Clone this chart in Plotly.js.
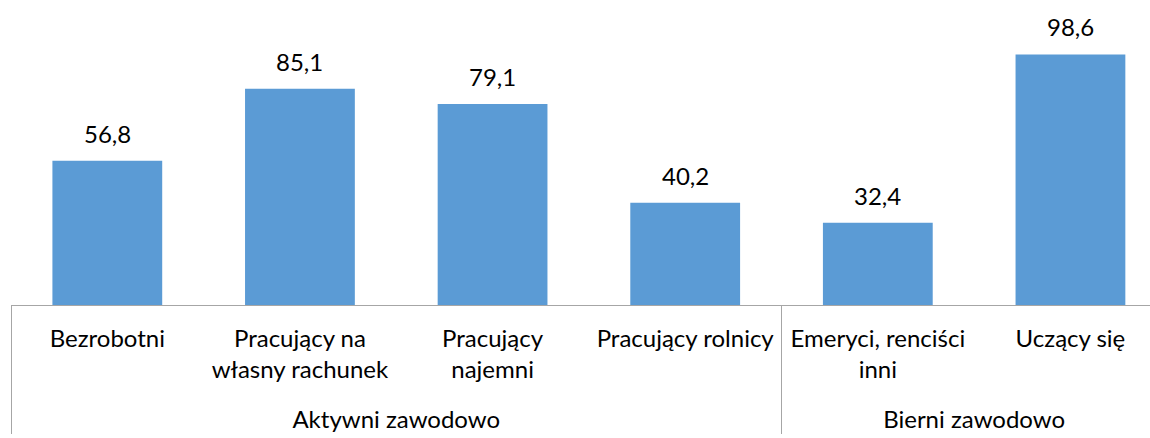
<!DOCTYPE html>
<html>
<head>
<meta charset="utf-8">
<script src="https://cdn.plot.ly/plotly-3.0.1.min.js"></script>
<style>
  html, body { margin: 0; padding: 0; background: #fff; }
  #chart { width: 1150px; height: 438px; }
</style>
</head>
<body>
<div id="chart"></div>
<script>
// data
var groups = ['Aktywni zawodowo', 'Aktywni zawodowo', 'Aktywni zawodowo', 'Aktywni zawodowo',
              'Bierni zawodowo', 'Bierni zawodowo'];
var categories = ['Bezrobotni', 'Pracujący na<br>własny rachunek', 'Pracujący<br>najemni',
                  'Pracujący rolnicy', 'Emeryci, renciści<br>inni', 'Uczący się'];
var values = [56.8, 85.1, 79.1, 40.2, 32.4, 98.6];

var labelFont = {family: 'Lato, "Open Sans", sans-serif', size: 24, color: '#000'};

// leading empty line pushes the group labels further down, as in the original
var groupLabels = groups.map(function(g) { return '<br>' + g; });

var data = [{
    type: 'bar',
    x: [groupLabels, categories],
    y: values,
    marker: {color: '#5B9BD5'},
    hoverinfo: 'none'
}];

// value labels above bars, decimal comma
var annotations = values.map(function(v, i) {
    return {
        x: i,
        y: v,
        xref: 'x',
        yref: 'y',
        text: v.toFixed(1).replace('.', ','),
        showarrow: false,
        yanchor: 'bottom',
        yshift: 11,
        font: labelFont
    };
});

var layout = {
    width: 1150,
    height: 438,
    margin: {l: 11, r: 0, t: 0, b: 133},
    paper_bgcolor: '#fff',
    plot_bgcolor: '#fff',
    showlegend: false,
    bargap: 0.43,
    font: labelFont,
    xaxis: {
        type: 'multicategory',
        range: [-0.5, 5.413],
        showline: true,
        linecolor: '#a6a6a6',
        linewidth: 1,
        ticks: '',
        ticklabelstandoff: 12,
        showdividers: true,
        dividercolor: '#a6a6a6',
        dividerwidth: 1,
        tickfont: labelFont,
        fixedrange: true
    },
    yaxis: {
        range: [0, 120],
        showgrid: false,
        zeroline: false,
        showline: false,
        showticklabels: false,
        fixedrange: true
    },
    annotations: annotations
};

Plotly.newPlot('chart', data, layout, {displayModeBar: false, staticPlot: true});
</script>
</body>
</html>
